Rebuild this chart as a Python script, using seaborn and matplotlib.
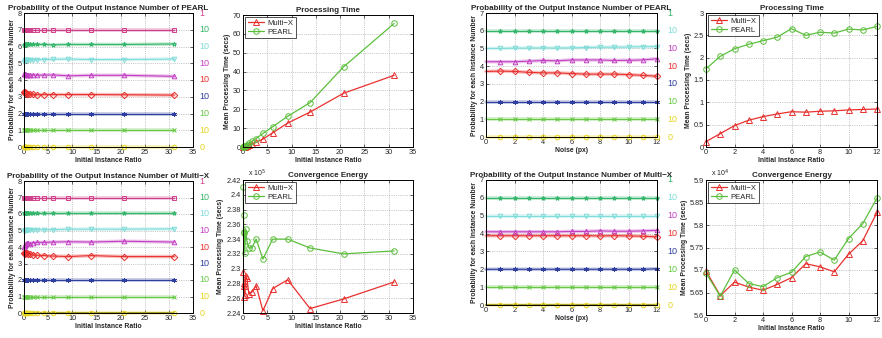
import matplotlib
matplotlib.use("Agg")
import matplotlib.pyplot as plt
import matplotlib.transforms as mtransforms
import seaborn as sns

# ---- data ----
ratio = [0.07, 0.11, 0.16, 0.24, 0.36, 0.54, 0.81, 1.2, 1.8, 2.7, 4.1, 6.1, 9.2, 13.8, 20.7, 31.1]
noise = [0, 1, 2, 3, 4, 5, 6, 7, 8, 9, 10, 11, 12]

# probability panels: instance level offset + probability
pearl_ratio_levels = [
    [0.0] * 16,
    [1.0] * 16,
    [2.0] * 16,
    [3.3, 3.28, 3.25, 3.22, 3.2, 3.18, 3.15, 3.15, 3.15, 3.12, 3.13, 3.13, 3.13, 3.13, 3.12, 3.1],
    [4.35, 4.38, 4.35, 4.35, 4.32, 4.32, 4.3, 4.3, 4.3, 4.28, 4.3, 4.3, 4.25, 4.28, 4.28, 4.22],
    [5.1, 5.15, 5.18, 5.2, 5.2, 5.22, 5.22, 5.22, 5.2, 5.22, 5.22, 5.24, 5.25, 5.22, 5.22, 5.25],
    [6.08, 6.1, 6.1, 6.12, 6.12, 6.12, 6.12, 6.12, 6.12, 6.12, 6.12, 6.1, 6.12, 6.12, 6.12, 6.15],
    [7.0] * 16,
]
multix_ratio_levels = [
    [0.0] * 16,
    [1.0] * 16,
    [2.0] * 16,
    [3.62, 3.62, 3.65, 3.6, 3.62, 3.65, 3.6, 3.55, 3.52, 3.5, 3.48, 3.45, 3.42, 3.48, 3.42, 3.42],
    [4.0, 4.05, 4.1, 4.15, 4.2, 4.25, 4.25, 4.2, 4.25, 4.28, 4.28, 4.3, 4.32, 4.3, 4.35, 4.3],
    [4.95, 5.0, 5.0, 5.02, 5.02, 5.05, 5.05, 5.05, 5.05, 5.05, 5.05, 5.05, 5.08, 5.08, 5.08, 5.1],
    [6.05] * 16,
    [7.0] * 16,
]
pearl_noise_levels = [
    [0.0] * 13,
    [1.0] * 13,
    [2.0] * 13,
    [3.7, 3.72, 3.7, 3.65, 3.62, 3.62, 3.58, 3.55, 3.55, 3.55, 3.52, 3.48, 3.43],
    [4.25, 4.25, 4.25, 4.28, 4.32, 4.3, 4.35, 4.35, 4.35, 4.32, 4.33, 4.35, 4.42],
    [5.0, 5.0, 5.02, 5.02, 5.03, 5.02, 5.03, 5.05, 5.07, 5.07, 5.08, 5.1, 5.1],
    [6.0] * 13,
]
multix_noise_levels = [
    [0.0] * 13,
    [1.0] * 13,
    [2.0, 2.0, 2.0, 2.0, 2.0, 2.0, 2.0, 2.0, 2.0, 2.0, 2.0, 2.0, 2.03],
    [3.88, 3.88, 3.88, 3.88, 3.88, 3.88, 3.88, 3.88, 3.87, 3.88, 3.87, 3.85, 3.82],
    [4.1, 4.1, 4.1, 4.1, 4.1, 4.1, 4.12, 4.12, 4.15, 4.13, 4.13, 4.15, 4.18],
    [5.0] * 13,
    [6.0] * 13,
]

time_multix_ratio = [0.05, 0.07, 0.1, 0.15, 0.2, 0.35, 0.6, 1.0, 1.5, 2.5, 4.2, 7.5, 12.7, 18.5, 28.5, 38.0]
time_pearl_ratio = [0.1, 0.15, 0.25, 0.35, 0.5, 0.75, 1.2, 2.0, 3.0, 4.5, 7.2, 10.7, 16.3, 23.5, 42.5, 65.5]
energy_multix_ratio = [2.295, 2.277, 2.262, 2.280, 2.265, 2.290, 2.287, 2.266, 2.268, 2.277,
                       2.243, 2.273, 2.285, 2.246, 2.259, 2.282]  # x 10^5
energy_pearl_ratio = [2.410, 2.372, 2.350, 2.348, 2.321, 2.354, 2.337, 2.328, 2.328, 2.340,
                      2.313, 2.340, 2.340, 2.328, 2.320, 2.324]  # x 10^5

time_multix_noise = [0.12, 0.3, 0.48, 0.6, 0.68, 0.74, 0.79, 0.78, 0.8, 0.81, 0.83, 0.84, 0.85]
time_pearl_noise = [1.75, 2.03, 2.2, 2.3, 2.38, 2.46, 2.65, 2.5, 2.57, 2.55, 2.64, 2.62, 2.7]
energy_multix_noise = [5.698, 5.643, 5.673, 5.662, 5.655, 5.668, 5.683, 5.714, 5.707, 5.696,
                       5.735, 5.765, 5.828]  # x 10^4
energy_pearl_noise = [5.693, 5.642, 5.700, 5.670, 5.663, 5.683, 5.695, 5.730, 5.740, 5.722,
                      5.770, 5.803, 5.860]  # x 10^4

level_colors = ["#e6d51f", "#66c844", "#2f3f9f", "#e8312e", "#c23fc2", "#7fdcd8", "#33b56a", "#cf3f8a"]
level_markers = ["o", "x", (6, 2, 0), "D", "^", "v", "*", "s"]
red = "#e8312e"
green = "#5cbf3c"

W, H = 882, 338


def rect(l, t, r, b):
    return [l / W, 1 - b / H, (r - l) / W, (b - t) / H]


def style_axes(ax, title, xlabel, ylabel):
    ax.set_title(title, fontsize=5.8, fontweight="bold", pad=2.5)
    ax.set_xlabel(xlabel, fontsize=4.9, fontweight="bold", labelpad=1)
    ax.set_ylabel(ylabel, fontsize=4.9, fontweight="bold", labelpad=1.5)
    ax.tick_params(direction="in", length=2, width=0.5, labelsize=5.3, pad=1.5,
                   top=True, right=True, bottom=True, left=True)
    ax.grid(True, linestyle=":", color="#9a9a9a", linewidth=0.5)
    ax.set_axisbelow(True)
    for s in ax.spines.values():
        s.set_linewidth(0.7)
        s.set_color("black")


def draw_levels(ax, x, levels, skip_first=False, olive_zero=False):
    for k, y in enumerate(levels):
        col = level_colors[k]
        line_col = "#a89f2a" if (olive_zero and k == 0) else col
        sns.lineplot(x=x, y=y, color=col, linewidth=2.6, alpha=0.3, errorbar=None,
                     sort=False, ax=ax, clip_on=False)
        sns.lineplot(x=x, y=y, color=line_col, linewidth=0.8 if not (olive_zero and k == 0) else 1.4,
                     marker=level_markers[k], markersize=3.3,
                     markerfacecolor="none", markeredgecolor=col, markeredgewidth=0.7,
                     markevery=slice(1, None) if skip_first else None,
                     errorbar=None, sort=False, ax=ax, clip_on=False)


def right_labels(ax, n, xpos):
    tr = mtransforms.blended_transform_factory(ax.transAxes, ax.transData)
    ax.text(xpos, 0, "0", color=level_colors[0], fontsize=6.5, va="center", transform=tr, clip_on=False)
    for j in range(1, n + 1):
        ax.text(xpos, j, "1" if j == n else "10", color=level_colors[j - 1], fontsize=6.5,
                va="center", transform=tr, clip_on=False)


def draw_pair(ax, x, y_mx, y_pl):
    sns.lineplot(x=x, y=y_mx, color=red, linewidth=0.9, marker="^", markersize=4,
                 markerfacecolor="none", markeredgecolor=red, markeredgewidth=0.7,
                 errorbar=None, sort=False, ax=ax, label="Multi\u2212X", clip_on=False)
    sns.lineplot(x=x, y=y_pl, color=green, linewidth=0.9, marker="o", markersize=4,
                 markerfacecolor="none", markeredgecolor=green, markeredgewidth=0.7,
                 errorbar=None, sort=False, ax=ax, label="PEARL", clip_on=False)
    leg = ax.legend(loc="upper left", fontsize=5.5, frameon=True, fancybox=False,
                    borderpad=0.3, labelspacing=0.2, handlelength=2.2, handletextpad=0.4,
                    borderaxespad=0.3)
    leg.get_frame().set_edgecolor("black")
    leg.get_frame().set_linewidth(0.6)


sns.set_theme(style="ticks")
plt.rcParams["font.family"] = ["Liberation Sans", "DejaVu Sans"]

fig = plt.figure(figsize=(W / 100, H / 100), dpi=100)

ylab_prob = "Probability for each Instance Number"
ylab_time = "Mean Processing Time (secs)"

# A: PEARL probability vs ratio
ax = fig.add_axes(rect(24, 13, 193, 147))
draw_levels(ax, ratio, pearl_ratio_levels)
style_axes(ax, "Probability of the Output Instance Number of PEARL", "Initial Instance Ratio", ylab_prob)
ax.set_xlim(0, 35)
ax.set_ylim(0, 8)
ax.set_xticks([0, 5, 10, 15, 20, 25, 30, 35])
ax.set_yticks(range(9))
right_labels(ax, 8, 1.04)

# B: processing time vs ratio
ax = fig.add_axes(rect(243, 15, 413, 147))
draw_pair(ax, ratio, time_multix_ratio, time_pearl_ratio)
style_axes(ax, "Processing Time", "Initial Instance Ratio", ylab_time)
ax.set_xlim(0, 35)
ax.set_ylim(0, 70)
ax.set_xticks([0, 5, 10, 15, 20, 25, 30, 35])
ax.set_yticks(range(0, 71, 10))

# C: PEARL probability vs noise
ax = fig.add_axes(rect(486, 13, 657, 137))
draw_levels(ax, noise, pearl_noise_levels, skip_first=True)
style_axes(ax, "Probability of the Output Instance Number of PEARL", "Noise (px)", ylab_prob)
ax.set_xlim(0, 12)
ax.set_ylim(0, 7)
ax.set_xticks(range(0, 13, 2))
ax.set_yticks(range(8))
right_labels(ax, 7, 1.06)

# D: processing time vs noise
ax = fig.add_axes(rect(706, 13, 877, 147))
draw_pair(ax, noise, time_multix_noise, time_pearl_noise)
style_axes(ax, "Processing Time", "Initial Instance Ratio", ylab_time)
ax.set_xlim(0, 12)
ax.set_ylim(0, 3)
ax.set_xticks(range(0, 13, 2))
ax.set_yticks([0, 0.5, 1, 1.5, 2, 2.5, 3])
ax.set_yticklabels(["0", "0.5", "1", "1.5", "2", "2.5", "3"])

# E: Multi-X probability vs ratio
ax = fig.add_axes(rect(24, 181, 193, 313))
draw_levels(ax, ratio, multix_ratio_levels, olive_zero=True)
style_axes(ax, "Probability of the Output Instance Number of Multi\u2212X", "Initial Instance Ratio", ylab_prob)
ax.set_xlim(0, 35)
ax.set_ylim(0, 8)
ax.set_xticks([0, 5, 10, 15, 20, 25, 30, 35])
ax.set_yticks(range(9))
right_labels(ax, 8, 1.04)

# F: convergence energy vs ratio
ax = fig.add_axes(rect(243, 180, 413, 313))
draw_pair(ax, ratio, energy_multix_ratio, energy_pearl_ratio)
style_axes(ax, "Convergence Energy", "Initial Instance Ratio", ylab_time)
ax.set_xlim(0, 35)
ax.set_ylim(2.24, 2.42)
ax.set_xticks([0, 5, 10, 15, 20, 25, 30, 35])
yt = [2.24, 2.26, 2.28, 2.3, 2.32, 2.34, 2.36, 2.38, 2.4, 2.42]
ax.set_yticks(yt)
ax.set_yticklabels([f"{v:g}" for v in yt])
ax.text(0.03, 1.01, r"x 10$^5$", transform=ax.transAxes, fontsize=5, va="bottom")

# G: Multi-X probability vs noise
ax = fig.add_axes(rect(486, 180, 657, 305))
draw_levels(ax, noise, multix_noise_levels, skip_first=True, olive_zero=True)
style_axes(ax, "Probability of the Output Instance Number of Multi\u2212X", "Noise (px)", ylab_prob)
ax.set_xlim(0, 12)
ax.set_ylim(0, 7)
ax.set_xticks(range(0, 13, 2))
ax.set_yticks(range(8))
right_labels(ax, 7, 1.06)

# H: convergence energy vs noise
ax = fig.add_axes(rect(706, 180, 877, 315))
draw_pair(ax, noise, energy_multix_noise, energy_pearl_noise)
style_axes(ax, "Convergence Energy", "Initial Instance Ratio", ylab_time)
ax.set_xlim(0, 12)
ax.set_ylim(5.6, 5.9)
ax.set_xticks(range(0, 13, 2))
yt = [5.6, 5.65, 5.7, 5.75, 5.8, 5.85, 5.9]
ax.set_yticks(yt)
ax.set_yticklabels([f"{v:g}" for v in yt])
ax.text(0.03, 1.01, r"x 10$^4$", transform=ax.transAxes, fontsize=5, va="bottom")

fig.savefig("out.png", dpi=100)
